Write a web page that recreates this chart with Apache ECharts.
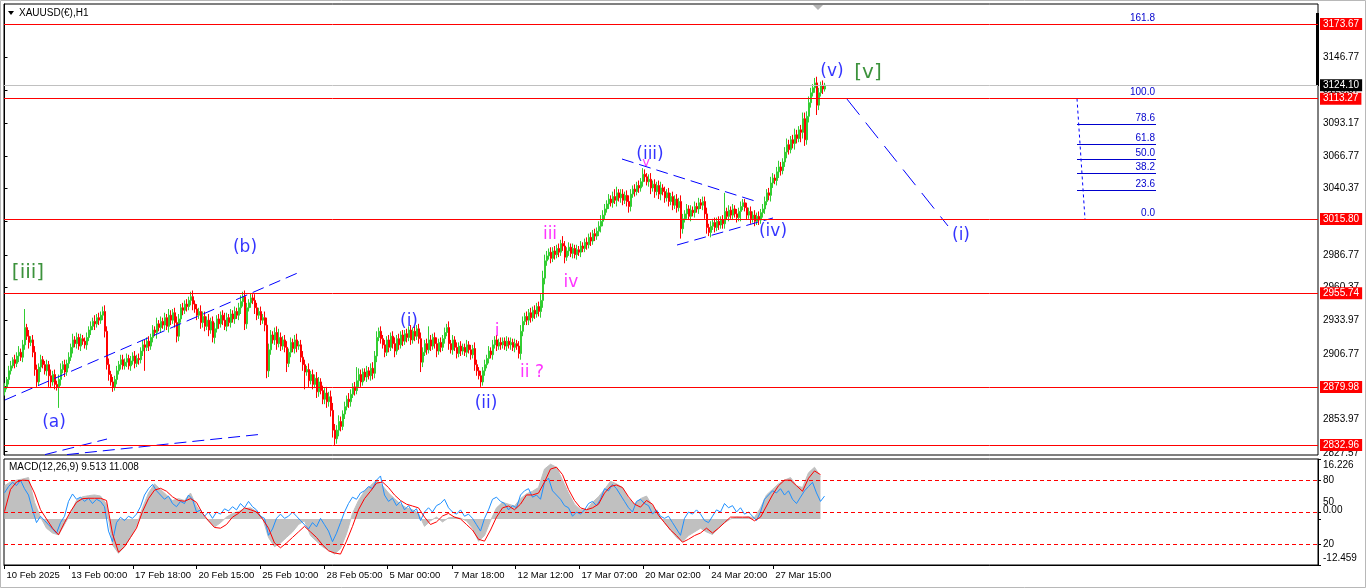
<!DOCTYPE html>
<html>
<head>
<meta charset="utf-8">
<title>XAUUSD(€),H1</title>
<script src="https://cdn.jsdelivr.net/npm/echarts@6.0.0/dist/echarts.min.js"></script>
<style>
html,body{margin:0;padding:0;background:#fff;overflow:hidden;}
#chart{width:1366px;height:588px;}
</style>
</head>
<body>
<div id="chart"></div>
<script>
// ================= DATA =================
const symbolTitle = 'XAUUSD(€),H1';
const macdTitle = 'MACD(12,26,9) 9.513 11.008';

// price candles: one close every 2 hourly bars, starting at bar 0
const barStep = 2;
const firstOpen = 2876;
const closes = [
  2880,2886,2893,2897,2902,2899,2905,2908,2904,2914,
  2928,2921,2916,2918,2908,2894,2884,2896,2902,2898,
  2893,2898,2889,2884,2890,2882,2880,2886,2894,2898,
  2892,2899,2904,2912,2918,2915,2920,2913,2919,2917,
  2914,2920,2926,2929,2933,2931,2936,2934,2938,2941,
  2925,2898,2890,2884,2880,2886,2893,2898,2902,2897,
  2900,2903,2897,2901,2905,2899,2903,2902,2909,2914,
  2912,2917,2913,2920,2926,2924,2931,2928,2933,2930,
  2936,2929,2938,2934,2940,2932,2921,2935,2944,2942,
  2947,2945,2950,2953,2947,2943,2938,2941,2932,2937,
  2929,2934,2926,2933,2920,2927,2935,2931,2938,2934,
  2929,2936,2932,2939,2935,2941,2938,2944,2949,2953,
  2931,2944,2948,2952,2950,2944,2938,2941,2934,2936,
  2930,2893,2910,2922,2918,2924,2915,2920,2913,2918,
  2912,2899,2908,2916,2911,2918,2913,2914,2904,2898,
  2892,2894,2885,2890,2882,2887,2876,2884,2877,2870,
  2875,2868,2872,2861,2845,2838,2845,2852,2848,2858,
  2864,2870,2868,2874,2880,2877,2885,2890,2884,2892,
  2888,2893,2889,2895,2891,2905,2920,2925,2919,2914,
  2908,2918,2912,2921,2915,2909,2919,2914,2922,2917,
  2923,2920,2926,2918,2925,2921,2927,2919,2900,2908,
  2915,2910,2918,2913,2920,2915,2909,2916,2912,2919,
  2924,2928,2915,2910,2918,2912,2907,2913,2909,2912,
  2908,2914,2910,2906,2911,2898,2893,2889,2884,2893,
  2898,2903,2909,2906,2914,2918,2913,2916,2914,2917,
  2913,2917,2914,2916,2912,2915,2913,2907,2925,2933,
  2937,2934,2940,2936,2942,2939,2945,2941,2950,2968,
  2982,2986,2989,2984,2990,2987,2992,2989,2996,2994,
  2985,2990,2993,2988,2992,2987,2991,2989,2994,2992,
  2997,2995,3001,2998,3004,3002,3006,3010,3014,3019,
  3024,3028,3032,3029,3034,3031,3037,3033,3036,3031,
  3035,3030,3026,3036,3040,3038,3043,3041,3046,3052,
  3050,3046,3048,3041,3044,3038,3043,3036,3041,3038,
  3033,3037,3030,3034,3027,3032,3025,3030,3008,3016,
  3020,3024,3018,3023,3021,3026,3024,3029,3027,3030,
  3020,3009,3005,3010,3013,3009,3014,3011,3015,3012,
  3022,3018,3023,3019,3024,3020,3017,3022,3026,3029,
  3025,3019,3022,3016,3019,3014,3018,3015,3021,3024,
  3030,3037,3035,3045,3049,3047,3054,3058,3055,3062,
  3070,3076,3072,3080,3077,3084,3081,3088,3086,3097,
  3080,3099,3110,3118,3122,3126,3108,3118,3124,3121,
  3124.10
];
// typical wick length of each candle (price units, both sides)
const wickSize = [
  3,2,4,3,2,4,3,5,3,4, 4,3,5,3,4,5,4,3,4,3, 3,4,3,5,3,4,3,4,5,3, 4,3,4,3,5,3,4,3,4,3,
  3,4,3,4,3,5,3,4,3,4, 5,4,5,3,4,3,4,3,4,3, 3,4,3,4,3,4,3,4,3,4, 4,3,4,3,4,3,5,3,4,3,
  4,3,5,4,3,4,5,4,3,4, 3,4,3,4,5,3,4,3,5,4, 4,3,5,3,4,5,3,4,3,4, 3,4,3,4,3,4,3,4,5,4,
  5,4,3,4,3,5,4,3,4,3, 5,6,5,4,3,4,5,3,4,3, 4,5,3,4,3,4,5,3,4,5, 4,3,5,3,4,3,5,4,3,4,
  4,5,4,5,6,5,4,5,4,3, 4,3,5,4,3,4,3,5,4,3, 3,4,3,4,5,4,5,3,4,3, 4,3,4,3,4,5,3,4,3,4,
  3,4,3,4,3,4,3,4,5,4, 3,4,3,4,3,4,5,3,4,3, 4,3,5,3,4,3,4,3,4,3, 3,4,3,4,3,5,4,3,4,3,
  4,3,4,3,4,3,4,3,4,3, 3,4,3,4,3,4,3,4,5,4, 3,4,3,4,3,4,3,4,5,6, 5,4,3,4,3,4,3,4,3,4,
  4,3,4,3,4,3,4,3,4,3, 3,4,3,4,3,4,3,4,5,4, 4,3,4,3,4,3,5,3,4,4, 3,4,5,4,3,4,3,4,3,4,
  4,3,4,5,3,4,3,4,5,3, 4,3,4,3,4,3,4,3,5,4, 3,4,3,4,3,4,3,4,3,4, 4,5,3,4,3,4,3,4,3,4,
  4,3,4,3,4,3,4,3,4,3, 3,4,3,4,3,4,3,4,3,4, 4,3,4,5,4,3,4,5,4,3, 4,5,4,3,4,5,4,3,4,5,
  5,4,5,4,3,4,5,4,3,4, 2
];
// extra wick extremes: [candle number, low, high]
const wicks = [
  [3,null,2901],[10,null,2943],[22,2880,null],[27,2863,null],[38,null,2922],
  [49,null,2943],[54,2877,null],[59,null,2906],[70,2893,null],[77,null,2934],
  [86,2918,null],[93,null,2955],[96,2934,null],[104,2917,null],[110,null,2940],
  [119,null,2957],[120,2928,null],[123,null,2955],[131,2888,null],[137,null,2927],
  [141,2892,null],[150,2878,null],[165,2833,null],[176,null,2896],[208,2892,null],
  [212,null,2929],[226,2903,null],[238,2880,null],[245,null,2920],[257,2903,null],
  [262,2930,null],[279,null,3002],[280,2980,null],[290,2993,null],[305,null,3040],
  [319,null,3057],[325,3033,null],[338,3000,null],[345,null,3028],[352,3002,null],
  [360,null,3037],[368,3014,null],[375,3011,null],[398,3078,null],[405,null,3128],
  [406,3100,null]
];

// MACD window: histogram (main) and signal, one value every 6 bars
const macdStep = 6;
const macdMain = [
  9.0,10.0,10.5,10.8,11.2,4.5,0.5,-2.5,-3.8,-4.3,
  -1.5,1.5,5.0,6.0,6.3,6.5,6.2,4.0,-7.0,-9.3,
  -7.5,-5.0,-2.0,3.0,7.0,9.5,8.0,6.5,5.0,5.5,
  5.0,7.0,3.5,1.0,-0.5,-2.2,-1.0,0.5,1.5,2.0,
  2.8,3.0,2.0,0.3,-5.0,-7.5,-6.5,-5.0,-3.5,-1.5,
  -0.5,-4.5,-6.0,-7.5,-8.5,-9.5,-8.0,-4.0,1.5,5.0,
  7.5,9.0,10.5,9.0,7.0,5.5,4.0,3.0,2.5,1.5,
  -2.0,-0.5,0.5,-0.8,0.3,0.5,0.2,-0.5,-2.5,-6.0,
  -4.5,-0.5,3.0,4.5,4.0,3.5,5.5,6.8,7.5,8.5,
  13.5,14.8,14.0,10.5,7.0,4.0,2.5,2.5,4.5,6.0,
  8.0,10.2,9.5,8.5,5.5,4.0,5.5,6.2,3.5,1.2,
  -1.0,-3.0,-5.0,-6.2,-4.5,-3.5,-2.5,-3.5,-4.2,-2.5,
  -1.0,0.0,0.5,0.3,0.6,0.4,3.0,6.5,8.0,9.5,
  10.5,11.2,9.0,8.5,12.5,14.0,11.5
];
const macdSignal = [
  2.0,8.0,10.0,10.5,10.4,7.0,2.5,0.0,-2.5,-4.3,
  -1.0,2.0,4.5,5.5,5.6,5.6,5.6,5.0,-4.0,-9.0,
  -7.5,-5.0,-2.5,2.0,5.5,7.8,8.3,7.5,6.0,5.0,
  4.8,5.5,4.5,1.5,-0.5,-2.3,-2.5,-1.5,0.5,1.5,
  3.0,2.5,1.9,0.0,-2.5,-6.5,-7.8,-6.5,-5.0,-3.5,
  -2.0,-3.5,-5.0,-7.0,-8.6,-9.2,-9.5,-6.0,-2.0,2.5,
  5.5,7.5,9.7,10.0,8.5,6.5,5.0,4.0,3.5,3.0,
  0.5,-1.5,-0.8,0.8,1.5,0.5,0.0,-1.5,-3.0,-5.5,
  -6.0,-3.0,0.5,3.0,3.5,2.5,4.0,6.5,6.5,7.0,
  10.0,13.5,14.0,12.0,8.0,5.0,3.0,2.5,3.0,4.0,
  7.0,8.8,9.2,8.5,6.0,4.0,3.2,5.0,4.0,1.0,
  -1.0,-3.0,-4.5,-6.3,-5.5,-4.5,-3.8,-2.5,-3.8,-2.5,
  -1.0,0.5,0.5,0.5,0.5,-0.5,0.5,3.5,6.5,9.0,
  10.5,10.5,9.0,7.5,11.0,13.0,12.0
];
// blue oscillator (0-100 scale with 80/50/20 levels), one value every 4 bars
const oscStep = 4;
const oscLine = [
  68,74,78,75,80,72,66,52,40,46,
  42,38,34,30,40,46,60,67,62,64,
  60,63,58,62,60,55,32,22,40,45,
  42,46,44,48,55,66,72,76,70,66,
  62,65,58,55,60,58,66,62,50,52,
  46,50,44,50,48,53,51,55,52,58,
  54,60,55,52,46,44,28,34,44,48,
  44,46,50,46,42,38,34,40,36,44,
  38,32,22,30,40,50,58,64,62,68,
  70,74,72,80,84,66,60,63,56,60,
  52,56,50,53,42,50,54,50,56,58,
  62,54,50,48,52,46,48,44,38,32,
  44,52,62,64,60,58,52,56,54,66,
  70,72,64,66,62,78,82,70,66,62,
  56,54,46,50,48,52,58,60,56,62,
  72,70,76,72,66,60,54,50,60,62,
  58,56,48,52,46,44,46,40,34,28,
  44,50,48,52,48,42,40,46,52,50,
  58,54,56,50,54,48,50,46,42,50,
  62,66,70,68,72,66,70,62,58,64,
  70,74,78,68,60,65
];
const oscLevels = [80, 50, 20];
const macdTicks = [16.226, 0, -12.459];

// axes
const priceTicks = [2827.57,2853.97,2880.37,2906.77,2933.97,2960.37,2986.77,3013.97,3040.37,3066.77,3093.17,3120.37,3146.77];
const timeTickPos = [0,64.7,128.5,191.9,255.8,320.1,383,447.3,511.1,575,638.4,704.8,768.7];
const timeTickLabels = ['10 Feb 2025','13 Feb 00:00','17 Feb 18:00','20 Feb 15:00','25 Feb 10:00','28 Feb 05:00','5 Mar 00:00','7 Mar 18:00','12 Mar 12:00','17 Mar 07:00','20 Mar 02:00','24 Mar 20:00','27 Mar 15:00'];

// horizontal levels
const levelLines = [3173.67, 3113.27, 3015.80, 2955.74, 2879.98, 2832.96];
const lastPrice = 3124.10;

// fibonacci retracement
const fibLow = 3015.80, fibHigh = 3113.27;
const fibLevels = [0, 23.6, 38.2, 50, 61.8, 78.6, 100, 161.8];
const fibBars = [1072.5, 1151.5];

// trend lines: [bar, price] endpoints and kind
const trendLines = [
  [[0.5, 2869.4], [295.5, 2973.0], 'dash'],
  [[40.5, 2825.2], [102.5, 2837.8], 'dash'],
  [[62.5, 2825.2], [258.5, 2841.8], 'dash'],
  [[617.5, 3064.4], [750.5, 3030.4], 'dash'],
  [[672.5, 2994.8], [768.5, 3016.7], 'dash'],
  [[842.5, 3112.9], [943.5, 3010.2], 'proj'],
  [[1072.5, 3113.27], [1080.5, 3015.80], 'dot']
];

// Elliott wave labels: text, bar, price, degree
const waveLabels = [
  ['[iii]', 23.5, 2972.2, 'primary'],
  ['(a)', 49.5, 2850.8, 'inter'],
  ['(b)', 240.5, 2992.4, 'inter'],
  ['(i)', 404.5, 2932.5, 'inter'],
  ['(ii)', 481.5, 2866.1, 'inter'],
  ['i', 492.5, 2924.4, 'minor'],
  ['ii ?', 527.5, 2891.2, 'minor'],
  ['iii', 545.5, 3002.9, 'minor'],
  ['iv', 566.5, 2964.1, 'minor'],
  ['v', 641.5, 3061.5, 'minorSmall'],
  ['(iii)', 645.5, 3067.7, 'inter'],
  ['(iv)', 768.5, 3005.3, 'inter'],
  ['(v)', 827.5, 3134.8, 'inter'],
  ['[v]', 863.5, 3134.0, 'primary'],
  ['(i)', 956.5, 3002.1, 'inter']
];

// ================= STYLES =================
const FONT = 'Liberation Sans';
const waveStyle = {
  primary: {color: '#0B770B', size: 20},
  inter: {color: '#0000FF', size: 17},
  minor: {color: '#FF00FF', size: 17},
  minorSmall: {color: '#FF00FF', size: 13}
};
const lineKinds = {
  dash: {type: [12, 6]},
  proj: {type: [20, 10]},
  dot: {type: [3, 3]}
};

// ================= BUILD =================
const candleData = closes.map((c, k) => {
  const o = k === 0 ? firstOpen : closes[k - 1];
  const w = wickSize[k] || 0;
  return [k * barStep, o, c, Math.min(o, c) - w, Math.max(o, c) + w];
});
wicks.forEach(([k, lo, hi]) => {
  if (lo != null) candleData[k][3] = Math.min(candleData[k][3], lo);
  if (hi != null) candleData[k][4] = Math.max(candleData[k][4], hi);
});
const macdMainData = macdMain.map((v, k) => [k * macdStep, v]);
const macdSignalData = macdSignal.map((v, k) => [k * macdStep, v]);
const oscData = oscLine.map((v, k) => [k * oscStep, v]);
const fibPrice = r => fibLow + (fibHigh - fibLow) * r / 100;

const chart = echarts.init(document.getElementById('chart'), null, {renderer: 'canvas', width: 1366, height: 588});

const priceLabel = (v, bg) => ({
  show: true, position: 'end', distance: 2, formatter: v.toFixed(2),
  backgroundColor: bg, color: '#FFFFFF', padding: [1, 3, 0, 3],
  fontSize: 10, fontFamily: FONT, lineHeight: 11
});

const option = {
  animation: false,
  backgroundColor: '#FFFFFF',
  textStyle: {fontFamily: FONT},
  title: [
    {text: symbolTitle, left: 19, top: 8, padding: 0, textStyle: {fontSize: 10, fontWeight: 'normal', color: '#000', fontFamily: FONT}},
    {text: macdTitle, left: 9, top: 462, padding: 0, textStyle: {fontSize: 10, fontWeight: 'normal', color: '#000', fontFamily: FONT}}
  ],
  grid: [
    {left: 4, top: 4, width: 1314, height: 451, show: true, borderColor: '#000', borderWidth: 1, backgroundColor: 'transparent'},
    {left: 4, top: 459, width: 1314, height: 106, show: true, borderColor: '#000', borderWidth: 1, backgroundColor: 'transparent'}
  ],
  xAxis: [
    {type: 'value', gridIndex: 0, min: -0.5, max: 1313.5, show: false},
    {type: 'value', gridIndex: 1, min: -0.5, max: 1313.5, position: 'bottom',
      axisLine: {show: true, onZero: false, lineStyle: {color: '#000'}},
      axisTick: {show: true, length: 4, customValues: timeTickPos, lineStyle: {color: '#000'}},
      axisLabel: {show: true, customValues: timeTickPos, align: 'left', margin: 5, fontSize: 9.5, color: '#000', padding: [0, 0, 0, 2],
        formatter: v => { const j = timeTickPos.indexOf(v); return j >= 0 ? timeTickLabels[j] : ''; }},
      splitLine: {show: false}}
  ],
  yAxis: [
    {type: 'value', gridIndex: 0, position: 'right', min: 2824.87, max: 3189.85,
      axisLine: {show: true, lineStyle: {color: '#000'}},
      axisTick: {show: true, length: 3, customValues: priceTicks, lineStyle: {color: '#000'}},
      axisLabel: {customValues: priceTicks, fontSize: 10, color: '#000', margin: 5,
        formatter: v => v === priceTicks[0] ? '{b|' + v.toFixed(2) + '}' : v.toFixed(2),
        rich: {b: {fontSize: 10, color: '#000', padding: [4, 0, 0, 0]}}},
      splitLine: {show: false}},
    {type: 'value', gridIndex: 1, position: 'right', min: -12.459, max: 16.226,
      axisLine: {show: true, onZero: false, lineStyle: {color: '#000'}},
      axisTick: {show: true, length: 3, customValues: macdTicks, lineStyle: {color: '#000'}},
      axisLabel: {customValues: macdTicks, fontSize: 10, color: '#000', margin: 5,
        formatter: v => v === 16.226 ? '{t|16.226}' : (v === 0 ? '{u|0.00}' : '{b|-12.459}'),
        rich: {
          t: {fontSize: 10, color: '#000', padding: [13, 0, 0, 0]},
          u: {fontSize: 10, color: '#000', padding: [0, 0, 17, 0]},
          b: {fontSize: 10, color: '#000', padding: [0, 0, 14, 0]}
        }},
      splitLine: {show: false}},
    {type: 'value', gridIndex: 1, position: 'right', min: 0, max: 100,
      axisLine: {show: false, onZero: false},
      axisTick: {show: true, length: 3, customValues: oscLevels, lineStyle: {color: '#000'}},
      axisLabel: {customValues: oscLevels, fontSize: 10, color: '#000', margin: 5,
        formatter: v => v === 50 ? '{u|50}' : String(v),
        rich: {u: {fontSize: 10, color: '#000', padding: [0, 0, 20, 0]}}},
      splitLine: {show: false}}
  ],
  series: [
    {
      type: 'candlestick', name: 'XAUUSD', xAxisIndex: 0, yAxisIndex: 0,
      dimensions: ['t', 'open', 'close', 'lowest', 'highest'],
      encode: {x: 't', y: ['open', 'close', 'lowest', 'highest']},
      data: candleData, barWidth: 1.5, large: false, progressive: 0,
      itemStyle: {color: '#32CD32', color0: '#FF0000', borderColor: '#32CD32', borderColor0: '#FF0000', borderWidth: 1},
      markLine: {
        silent: true, symbol: ['none', 'none'], animation: false, z: 5,
        data: levelLines.map(v => ({yAxis: v, lineStyle: {color: '#FF0000', width: 1, type: 'solid'}, label: priceLabel(v, '#FF0000')}))
          .concat([{yAxis: lastPrice, lineStyle: {color: '#C0C0C0', width: 1, type: 'solid'}, label: priceLabel(lastPrice, '#000000')}])
      }
    },
    {
      type: 'lines', coordinateSystem: 'cartesian2d', xAxisIndex: 0, yAxisIndex: 0, silent: true, z: 4,
      lineStyle: {color: '#0000FF', width: 1, opacity: 1},
      data: trendLines.map(([a, b, kind]) => ({coords: [a, b], lineStyle: {color: '#0000FF', width: 1, opacity: 1, type: lineKinds[kind].type}}))
    },
    {
      type: 'lines', coordinateSystem: 'cartesian2d', xAxisIndex: 0, yAxisIndex: 0, silent: true, z: 3,
      lineStyle: {color: '#0000CD', width: 1, opacity: 1, type: 'solid'},
      label: {show: true, position: 'insideEndTop', distance: 1, color: '#0000CD', fontSize: 10, fontFamily: FONT, formatter: p => p.name},
      data: fibLevels.map(r => ({name: r.toFixed(1), coords: [[fibBars[0], fibPrice(r)], [fibBars[1], fibPrice(r)]]}))
    },
    {
      type: 'scatter', xAxisIndex: 0, yAxisIndex: 0, silent: true, z: 6,
      symbol: 'circle', symbolSize: 1, itemStyle: {color: 'rgba(0,0,0,0)'},
      data: waveLabels.map(([t, i, p, kind]) => ({
        value: [i, p],
        label: {show: true, position: 'inside', formatter: t, color: waveStyle[kind].color, fontSize: waveStyle[kind].size, fontFamily: 'DejaVu Sans'}
      }))
    },
    {
      type: 'line', name: 'MACD', xAxisIndex: 1, yAxisIndex: 1, data: macdMainData, symbol: 'none', silent: true,
      lineStyle: {color: '#C0C0C0', width: 1}, areaStyle: {color: '#C0C0C0', opacity: 1}, z: 1
    },
    {
      type: 'line', name: 'Osc', xAxisIndex: 1, yAxisIndex: 2, data: oscData, symbol: 'none', silent: true,
      lineStyle: {color: '#1E90FF', width: 1}, z: 2,
      markLine: {silent: true, symbol: ['none', 'none'], label: {show: false},
        lineStyle: {color: '#FF0000', width: 1, type: [4, 3]},
        data: oscLevels.map(v => ({yAxis: v}))}
    },
    {
      type: 'line', name: 'Signal', xAxisIndex: 1, yAxisIndex: 1, data: macdSignalData, symbol: 'none', silent: true,
      lineStyle: {color: '#FF0000', width: 1}, z: 3
    }
  ],
  graphic: [
    {type: 'rect', shape: {x: 0.5, y: 0.5, width: 1365, height: 587}, style: {fill: 'none', stroke: '#B8B8B8', lineWidth: 1}, silent: true},
    {type: 'polygon', shape: {points: [[8, 11], [14, 11], [11, 15]]}, style: {fill: '#000'}, silent: true},
    {type: 'polygon', shape: {points: [[813, 5], [823, 5], [818, 10]]}, style: {fill: '#B4B4B4'}, silent: true},
    {type: 'rect', shape: {x: 1316, y: 13, width: 3, height: 73}, style: {fill: '#000'}, silent: true}
  ]
};
chart.setOption(option);
</script>
</body>
</html>
